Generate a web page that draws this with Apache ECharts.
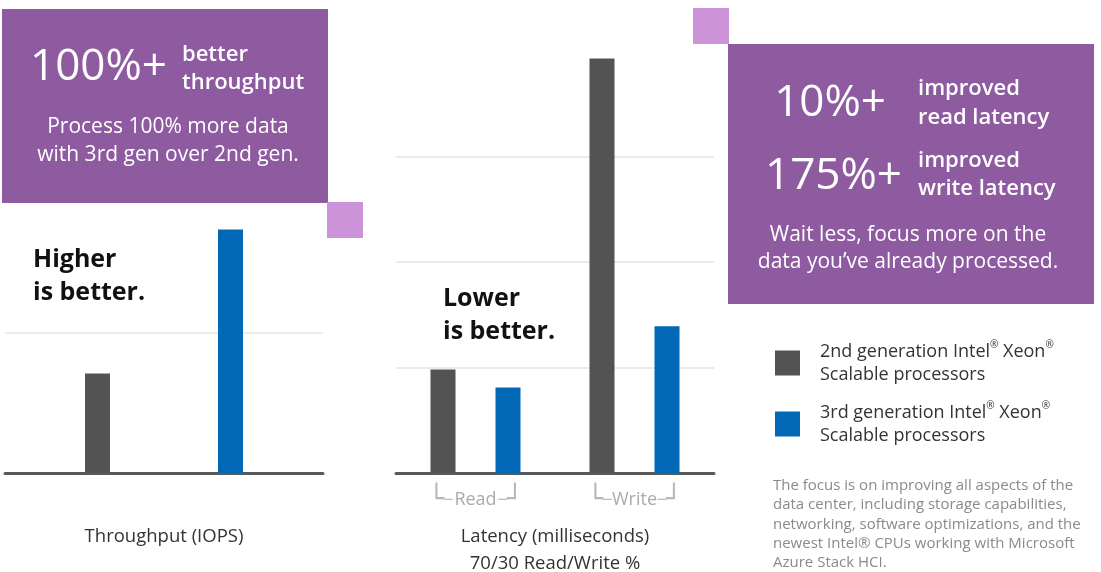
<!DOCTYPE html>
<html>
<head>
<meta charset="utf-8">
<script src="https://cdn.jsdelivr.net/npm/echarts@6/dist/echarts.min.js"></script>
<style>
  html, body { margin: 0; padding: 0; background: #fff; }
  #chart { width: 1101px; height: 572px; }
</style>
</head>
<body>
<div id="chart"></div>
<script>
// data (gridline step = 1 unit)
const throughputCats = ['IOPS'];
const gen2Throughput = [0.71];
const gen3Throughput = [1.74];

const latencyCats = ['Read', 'Write'];
const gen2Latency = [0.98, 3.93];
const gen3Latency = [0.81, 1.39];

const seriesNames = [
  '2nd generation Intel® Xeon® Scalable processors',
  '3rd generation Intel® Xeon® Scalable processors'
];
const legendLines = {
  [seriesNames[0]]: ['2nd generation Intel{s|®} Xeon{s|®}', 'Scalable processors'],
  [seriesNames[1]]: ['3rd generation Intel{s|®} Xeon{s|®}', 'Scalable processors']
};

const footnote = [
  'The focus is on improving all aspects of the',
  'data center, including storage capabilities,',
  'networking, software optimizations, and the',
  'newest Intel® CPUs working with Microsoft',
  'Azure Stack HCI.'
];

const GRAY = '#535353';
const BLUE = '#0068b5';
const PURPLE = '#8e5ba0';
const LILAC = '#cc93d9';
const BRACKET = '#b8b8b8';
const FONT = '"Open Sans", "Noto Sans", sans-serif';

const chart = echarts.init(document.getElementById('chart'));

const axisNameStyle = {
  color: '#333',
  fontSize: 18.5,
  lineHeight: 27,
  fontFamily: FONT
};

const txt = (text, x, y, size, opts) => Object.assign({
  type: 'text',
  x: x,
  y: y,
  z: 110,
  style: Object.assign({
    text: text,
    fill: '#fff',
    font: 'normal ' + size + 'px ' + FONT,
    textVerticalAlign: 'middle'
  }, opts || {})
});
const big = '500 44px ' + FONT;
const semi = '600 22px ' + FONT;

const option = {
  animation: false,
  textStyle: { fontFamily: FONT },
  grid: [
    { left: 5, width: 318, top: 193, bottom: 99, outerBoundsMode: 'none' },
    { left: 396, width: 318, top: 51, bottom: 99, outerBoundsMode: 'none' }
  ],
  xAxis: [
    {
      gridIndex: 0,
      type: 'category',
      data: throughputCats,
      axisTick: { show: false },
      axisLabel: { show: false },
      axisLine: { lineStyle: { color: '#595959', width: 3 } },
      name: 'Throughput (IOPS)',
      nameLocation: 'middle',
      nameGap: 50,
      nameTextStyle: axisNameStyle
    },
    {
      gridIndex: 1,
      type: 'category',
      data: latencyCats,
      axisTick: { show: false },
      axisLine: { lineStyle: { color: '#595959', width: 3 } },
      axisLabel: {
        interval: 0,
        hideOverlap: false,
        margin: 16,
        // bracket drawn with box-drawing glyphs around the group name
        formatter: (v) => '{v|└}{h|─}{t|' + v + '}{h|─}{v|┘}',
        rich: {
          v: { fontFamily: 'DejaVu Sans', fontSize: 26, lineHeight: 22, color: BRACKET },
          h: { fontFamily: 'DejaVu Sans', fontSize: 14, lineHeight: 22, color: BRACKET },
          t: { fontSize: 18, lineHeight: 22, color: '#ababab', width: 46, align: 'center', fontFamily: FONT }
        }
      },
      name: 'Latency (milliseconds)\n70/30 Read/Write %',
      nameLocation: 'middle',
      nameGap: 50,
      nameTextStyle: axisNameStyle
    }
  ],
  yAxis: [
    {
      gridIndex: 0,
      type: 'value',
      min: 0,
      max: 2,
      interval: 1,
      axisLabel: { show: false },
      axisLine: { show: false },
      axisTick: { show: false },
      splitLine: { showMaxLine: false, lineStyle: { color: '#eaeaea', width: 2 } }
    },
    {
      gridIndex: 1,
      type: 'value',
      min: 0,
      max: 4,
      interval: 1,
      axisLabel: { show: false },
      axisLine: { show: false },
      axisTick: { show: false },
      splitLine: { showMaxLine: false, lineStyle: { color: '#eaeaea', width: 2 } }
    }
  ],
  legend: {
    orient: 'vertical',
    left: 775,
    top: 340,
    padding: 0,
    itemWidth: 25,
    itemHeight: 25,
    itemGap: 15,
    icon: 'rect',
    selectedMode: false,
    data: seriesNames,
    formatter: (name) => legendLines[name].join('\n'),
    textStyle: {
      color: '#333',
      fontSize: 18,
      lineHeight: 23,
      fontFamily: FONT,
      padding: [0, 0, 0, 15],
      rich: {
        s: { fontSize: 10, color: '#333', verticalAlign: 'top', lineHeight: 23, fontFamily: FONT }
      }
    }
  },
  series: [
    {
      name: seriesNames[0],
      type: 'bar',
      xAxisIndex: 0,
      yAxisIndex: 0,
      data: gen2Throughput,
      barWidth: 25,
      barGap: '432%',
      itemStyle: { color: GRAY }
    },
    {
      name: seriesNames[1],
      type: 'bar',
      xAxisIndex: 0,
      yAxisIndex: 0,
      data: gen3Throughput,
      barWidth: 25,
      barGap: '432%',
      itemStyle: { color: BLUE }
    },
    {
      name: seriesNames[0],
      type: 'bar',
      xAxisIndex: 1,
      yAxisIndex: 1,
      data: gen2Latency,
      barWidth: 25,
      barGap: '160%',
      itemStyle: { color: GRAY }
    },
    {
      name: seriesNames[1],
      type: 'bar',
      xAxisIndex: 1,
      yAxisIndex: 1,
      data: gen3Latency,
      barWidth: 25,
      barGap: '160%',
      itemStyle: { color: BLUE }
    }
  ],
  graphic: [
    // left callout
    { type: 'rect', z: 100, shape: { x: 2, y: 9, width: 326, height: 194 }, style: { fill: PURPLE } },
    { type: 'rect', z: 100, shape: { x: 327, y: 202, width: 36, height: 36 }, style: { fill: LILAC } },
    txt('100%+', 30, 67, 44, { font: big }),
    txt('better', 182, 55, 22, { font: semi }),
    txt('throughput', 182, 83, 22, { font: semi }),
    txt('Process 100% more data', 168, 127, 21, { textAlign: 'center' }),
    txt('with 3rd gen over 2nd gen.', 168, 155, 21, { textAlign: 'center' }),

    // right callout
    { type: 'rect', z: 100, shape: { x: 728, y: 44, width: 366, height: 260 }, style: { fill: PURPLE } },
    { type: 'rect', z: 100, shape: { x: 693, y: 8, width: 36, height: 36 }, style: { fill: LILAC } },
    txt('10%+', 886, 103, 44, { textAlign: 'right', font: big }),
    txt('improved', 918, 89, 22, { font: semi }),
    txt('read latency', 918, 118, 22, { font: semi }),
    txt('175%+', 902, 176, 44, { textAlign: 'right', font: big }),
    txt('improved', 918, 161, 22, { font: semi }),
    txt('write latency', 918, 189, 22, { font: semi }),
    txt('Wait less, focus more on the', 908, 235, 21, { textAlign: 'center' }),
    txt('data you\u2019ve already processed.', 908, 262, 21, { textAlign: 'center' }),

    // chart notes
    txt('Higher', 33, 260, 25, { fill: '#111', font: 'bold 25px ' + FONT }),
    txt('is better.', 33, 293, 25, { fill: '#111', font: 'bold 25px ' + FONT }),
    txt('Lower', 443, 299, 25, { fill: '#111', font: 'bold 25px ' + FONT }),
    txt('is better.', 443, 332, 25, { fill: '#111', font: 'bold 25px ' + FONT }),

    // footnote
    {
      type: 'text',
      x: 773,
      y: 476,
      z: 110,
      style: {
        text: footnote.join('\n'),
        fill: '#8a8a8a',
        font: 'normal 15px ' + FONT,
        lineHeight: 19.3
      }
    }
  ]
};

chart.setOption(option);
window.addEventListener('resize', () => chart.resize());
</script>
</body>
</html>
